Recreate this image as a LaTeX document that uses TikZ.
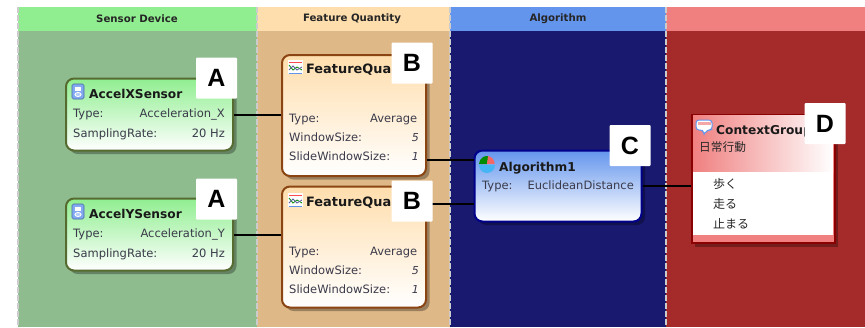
\documentclass[tikz,border=0pt]{standalone}
\usepackage{fontspec}
\setmainfont{DejaVu Sans}
\newfontfamily\cjk{Noto Sans CJK JP}
\newfontfamily\labelfont{Liberation Sans}
\usetikzlibrary{%
	calc,%
	shadows
}

\definecolor{sensorhead}{HTML}{90EE90}
\definecolor{sensorback}{HTML}{8FBC8F}
\definecolor{sensorline}{HTML}{556B2F}
\definecolor{featurehead}{HTML}{FFDEAD}
\definecolor{featureback}{HTML}{DEB887}
\definecolor{featureline}{HTML}{8B4513}
\definecolor{algohead}{HTML}{6495ED}
\definecolor{algoback}{HTML}{191970}
\definecolor{algoline}{HTML}{00008B}
\definecolor{contexthead}{HTML}{F08080}
\definecolor{contextback}{HTML}{A52A2A}
\definecolor{contextline}{HTML}{8B0000}
\definecolor{propgray}{HTML}{3A3A4A}

\tikzset{
	paneltitle/.style={font=\bfseries\fontsize{10.2}{12}\selectfont,text=black!85},
	boxshadow/.style={drop shadow={shadow xshift=3.5pt,shadow yshift=-3.5pt,fill=black,opacity=.3}},
	nodebox/.style={draw,line width=2pt,rounded corners=8pt,boxshadow,inner sep=0pt},
	sensorbox/.style={nodebox,draw=sensorline,top color=sensorhead,bottom color=white,minimum width=167pt,minimum height=72pt},
	featurebox/.style={nodebox,draw=featureline,top color=featurehead,bottom color=white,minimum width=144pt,minimum height=121pt},
	algobox/.style={nodebox,draw=algoline,top color=algohead,bottom color=white,minimum width=167pt,minimum height=71pt},
	contextbox/.style={draw=contextline,line width=2pt,fill=contexthead,boxshadow,inner sep=0pt,minimum width=143pt,minimum height=128pt},
	boxtitle/.style={anchor=base west,inner sep=0pt,font=\bfseries\fontsize{12.2}{14}\selectfont,text=black!90},
	featuretitle/.style={boxtitle,font=\bfseries\fontsize{12.9}{15}\selectfont},
	propname/.style={anchor=base west,inner sep=0pt,font=\fontsize{11.5}{13}\selectfont,text=propgray},
	propvalue/.style={anchor=base east,inner sep=0pt,font=\fontsize{11.5}{13}\selectfont,text=propgray},
	propnumber/.style={propvalue,font=\itshape\fontsize{11}{13}\selectfont},
	contextitem/.style={anchor=base west,inner sep=0pt,font=\cjk\fontsize{12}{14}\selectfont,text=black!85},
	tagbox/.style={fill=white,rounded corners=1pt,minimum size=41pt,inner sep=0pt,font=\labelfont\bfseries\fontsize{25}{27}\selectfont},
	wire/.style={line width=2pt,black},
	sensoricon/.pic={
		\draw[fill=algohead!80,draw=algohead!70!black,rounded corners=1.5pt,line width=.6pt] (0,0) rectangle (12,15);
		\fill[white] (3,3) rectangle (9,6.5);
		\draw[white,line width=.9pt,fill=algohead!50] (6,10.5) ellipse (3pt and 2pt);
	},
	featureicon/.pic={
		\fill[white] (0,0) rectangle (15,14);
		\draw[red!70,line width=.8pt] (1,2) -- (14,2);
		\draw[algohead,line width=.8pt] (1,13) -- (14,13);
		\draw[green!55!black,line width=.8pt] (1,5) -- (5,10) -- (9,7) -- (14,10);
		\draw[algoback!70,line width=.8pt] (1,10) -- (5,6) -- (9,10) -- (14,7);
	},
	algoicon/.pic={
		\fill[green!55!black] (8,8) -- (0,8) arc[start angle=180,end angle=80,radius=8pt] -- cycle;
		\fill[contexthead!80!red] (8,8) -- (9,0) arc[start angle=80,end angle=0,radius=8pt] -- cycle;
		\fill[algohead!70!cyan] (0,9) arc[start angle=180,end angle=360,radius=8pt] -- cycle;
	},
	contexticon/.pic={
		\draw[algohead,line width=1pt,fill=white,rounded corners=3pt] (0,0) -- (16,0) -- (16,10) -- (11,10) -- (8,15) -- (7,10) -- (0,10) -- cycle;
		\fill[contexthead!70] (1.5,1.5) rectangle (14.5,5);
	}
}

\begin{document}
\begin{tikzpicture}[x=1pt,y=-1pt]
	\useasboundingbox (0,0) rectangle (865,327);
	
	% Panels
	\foreach \left/\right/\head/\back in {18/257/sensorhead/sensorback,257/450/featurehead/featureback,450/666/algohead/algoback,666/865/contexthead/contextback}{
		\fill[\back] (\left,31) rectangle (\right,327);
		\fill[\head] (\left,7) rectangle (\right,31);
	}
	
	% Panel borders
	\foreach \left in {18,257,450,666}
	\draw[black!20,line width=2pt,dash pattern=on 6pt off 2pt] (\left,7) -- (\left,327);
	
	% Panel titles
	\node[paneltitle] (sensorpanel) at (137,19) {Sensor Device};
	\node[paneltitle] (featurepanel) at (352,19) {Feature Quantity};
	\node[paneltitle] (algopanel) at (558,19) {Algorithm};
	
	% Boxes
	\node[sensorbox] (accelx) at (149.5,114.5) {};
	\node[sensorbox] (accely) at (149.5,234.5) {};
	\node[featurebox] (featurea) at (354,115.5) {};
	\node[featurebox] (featureb) at (354,247) {};
	\node[algobox] (algo) at (558,186) {};
	\node[contextbox] (context) at (763,179) {};
	\node[left color=contexthead,right color=white,minimum width=140pt,minimum height=57pt,inner sep=0pt] (contexttop) at (763,143.5) {};
	\node[fill=white,minimum width=140pt,minimum height=63pt,inner sep=0pt] (contextlist) at (763,203.5) {};
	
	% Connectors
	\coordinate (algoa) at (algo.west |- 0,160);
	\coordinate (algob) at (algo.west |- 0,204);
	\draw[wire] (accelx.east) -- (featurea.west |- accelx.east);
	\draw[wire] (accely.east) -- (featureb.west |- accely.east);
	\draw[wire] (featurea.east |- algoa) -- (algoa);
	\draw[wire] (featureb.east |- algob) -- (algob);
	\draw[wire] (algo.east) -- (context.west |- algo.east);
	
	% Sensors
	\foreach \name/\typ/\ypos/\sname in {AccelXSensor/Acceleration\_X/98/sx,AccelYSensor/Acceleration\_Y/218/sy}{
		\pic at (72,\ypos-14) {sensoricon};
		\node[boxtitle] (\sname title) at (89,\ypos) {\name};
		\node[propname] (\sname typelabel) at (73,\ypos+19) {Type:};
		\node[propvalue] (\sname type) at (225,\ypos+19) {\typ};
		\node[propname] (\sname ratelabel) at (73,\ypos+39) {SamplingRate:};
		\node[propvalue] (\sname rate) at (225,\ypos+39) {20 Hz};
	}
	
	% Features
	\foreach \ypos/\fname in {73/fa,206/fb}{
		\pic at (288,\ypos-13) {featureicon};
		\node[featuretitle] (\fname title) at (306,\ypos) {FeatureQua};
		\node[propname] (\fname typelabel) at (289,\ypos+49) {Type:};
		\node[propvalue] (\fname type) at (417.5,\ypos+49) {Average};
		\node[propname] (\fname sizelabel) at (289,\ypos+68) {WindowSize:};
		\node[propnumber] (\fname size) at (419,\ypos+68) {5};
		\node[propname] (\fname slidelabel) at (289,\ypos+87) {SlideWindowSize:};
		\node[propnumber] (\fname slide) at (419,\ypos+87) {1};
	}
	
	% Algorithm
	\pic at (479,156) {algoicon};
	\node[boxtitle] (algotitle) at (499,171) {Algorithm1};
	\node[propname] (algotypelabel) at (482,189) {Type:};
	\node[propvalue] (algotype) at (634,189) {EuclideanDistance};
	
	% Context
	\pic at (696,120) {contexticon};
	\node[boxtitle] (contexttitle) at (716,134) {ContextGroup};
	\node[contextitem,font=\cjk\fontsize{11.7}{13}\selectfont] (contextname) at (699,151) {日常行動};
	\node[contextitem] (walk) at (713,188) {歩く};
	\node[contextitem] (run) at (713,208) {走る};
	\node[contextitem] (stop) at (713,228) {止まる};
	
	% Tags
	\node[tagbox] (taga) at (216.5,78) {A};
	\node[tagbox] (tagaa) at (216.5,199) {A};
	\node[tagbox] (tagb) at (412,63) {B};
	\node[tagbox] (tagbb) at (412,201) {B};
	\node[tagbox] (tagc) at (630,145.5) {C};
	\node[tagbox] (tagd) at (825,123.5) {D};
\end{tikzpicture}
\end{document}
